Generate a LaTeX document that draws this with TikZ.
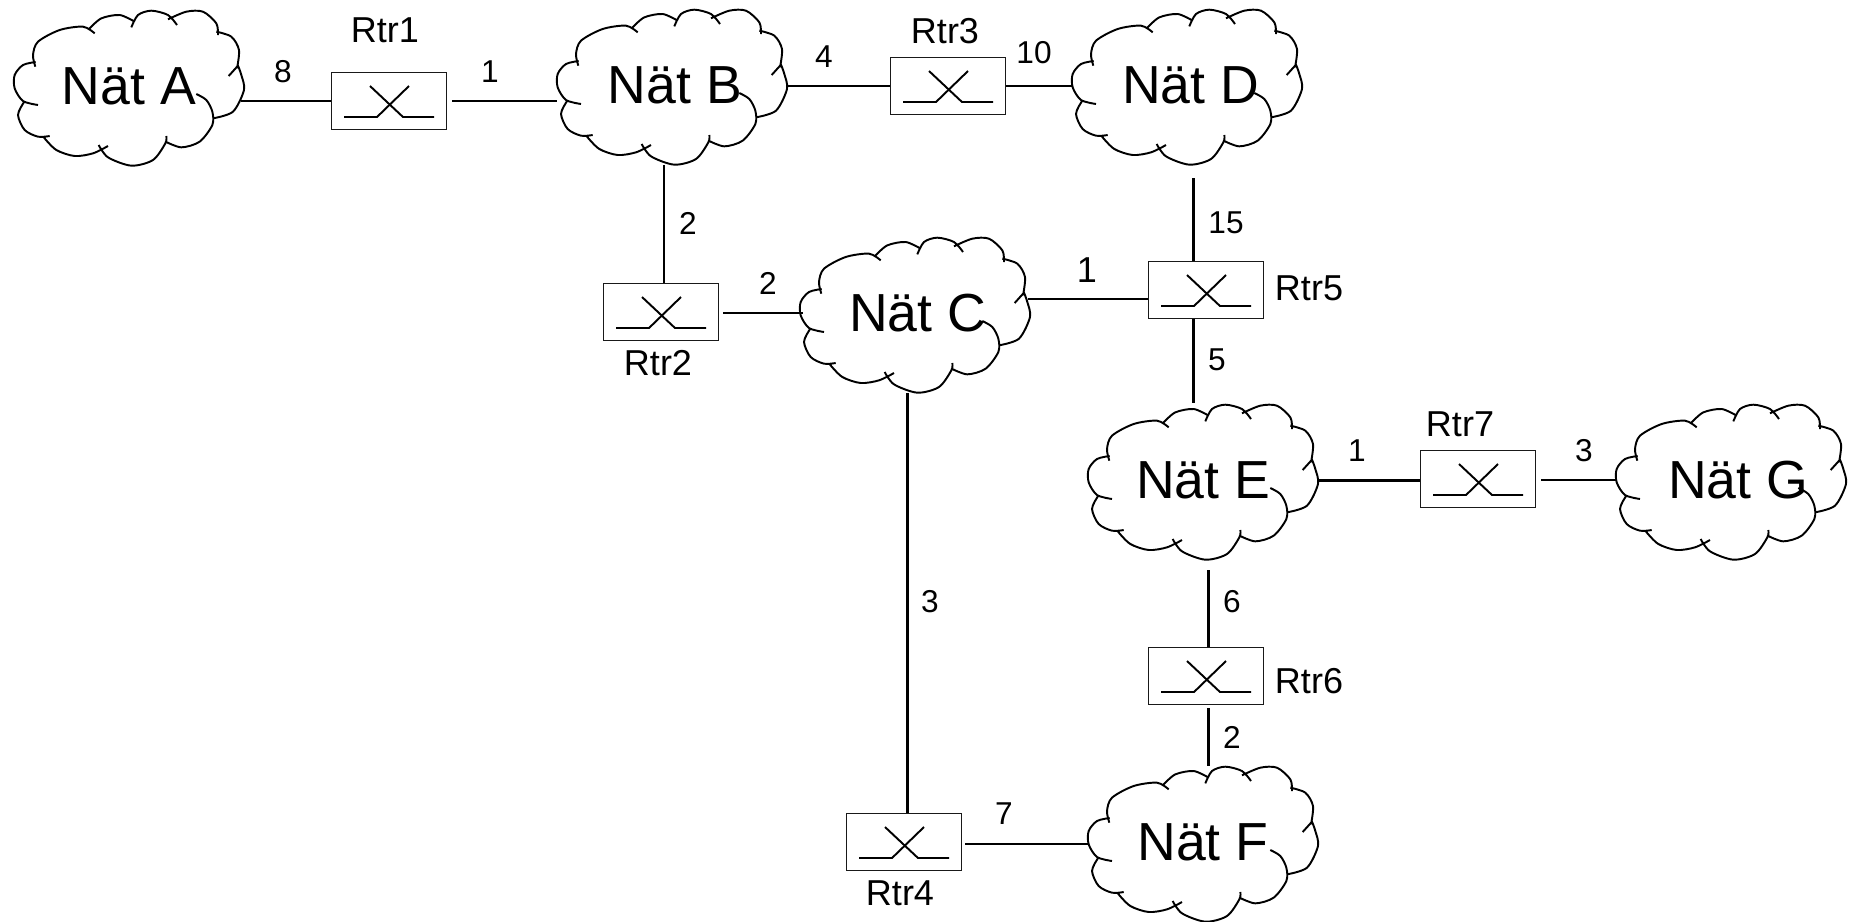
\documentclass[tikz,border=0pt]{standalone}
\usepackage{fontspec}
\setmainfont{Liberation Sans}
\tikzset{
  net/.style={minimum width=4.6cm,minimum height=3.12cm,inner sep=0pt,text depth=0.08cm,font=\fontsize{30.5}{30}\selectfont},
  rtr/.style={draw=black!90,line width=1.1pt,minimum width=2.3cm,minimum height=1.14cm,inner sep=0pt},
  tag/.style={inner sep=0pt,font=\fontsize{20.5}{21}\selectfont},
  cost/.style={inner sep=0pt,font=\fontsize{18}{18}\selectfont},
  link/.style={line width=1.1pt},
  heavy/.style={line width=1.7pt},
  cloudline/.pic={
    \draw[line width=1.1pt,scale=0.3333,shift={(-388,-264)}]
      plot[smooth] coordinates {(108,186) (70,195) (45,225) (45,265) (70,303) (115,315)}
      plot[smooth] coordinates {(72,308) (55,345) (75,390) (115,410) (150,408)}
      plot[smooth] coordinates {(133,413) (170,450) (225,468) (280,460) (325,438)}
      plot[smooth] coordinates {(297,435) (325,472) (395,497) (460,480) (497,430) (500,408)}
      plot[smooth] coordinates {(498,425) (545,442) (600,425) (638,375) (638,335) (620,300) (590,282)}
      plot[smooth] coordinates {(640,355) (700,335) (733,270) (725,225) (715,197)} -- (687,228)
      plot[smooth] coordinates {(712,205) (718,150) (695,110) (650,95)}
      plot[smooth] coordinates {(655,105) (650,70) (610,35) (560,35) (505,58)}
      plot[smooth] coordinates {(532,75) (505,45) (455,32) (415,45) (395,82)}
      plot[smooth] coordinates {(405,65) (360,45) (305,55) (270,85)}
      plot[smooth] coordinates {(285,100) (250,80) (180,90) (115,125) (100,165) (107,200)};
  },
}
\begin{document}
\begin{tikzpicture}[x=0.02cm,y=-0.02cm]
  \useasboundingbox (0,0) rectangle (1850,921);
  % networks
  \node[net] at (129,88) (na) {Nät A};
  \node[net] at (672,87) (nb) {\hspace*{0.12cm}Nät B};
  \node[net] at (915,315) (nc) {\hspace*{0.1cm}Nät C};
  \node[net] at (1187,87) (nd) {\hspace*{0.14cm}Nät D};
  \node[net] at (1203,482) (ne) {Nät E};
  \node[net] at (1203,844) (nf) {Nät F};
  \node[net] at (1731,482) (ng) {\hspace*{0.28cm}Nät G};
  \foreach \n in {na,nb,nc,nd,ne,nf,ng}
    \pic at (\n) {cloudline};
  % routers
  \node[rtr] at (389,101) (r1) {};
  \node[rtr] at (661,312) (r2) {};
  \node[rtr] at (948,86) (r3) {};
  \node[rtr] at (904,842) (r4) {};
  \node[rtr] at (1206,290) (r5) {};
  \node[rtr] at (1206,676) (r6) {};
  \node[rtr] at (1478,479) (r7) {};
  \foreach \n in {r1,r2,r3,r4,r5,r6,r7} {
    \draw[link] ([shift={(-45,16)}]\n.center) -- ([shift={(-12,16)}]\n.center) -- ([shift={(20,-15)}]\n.center);
    \draw[link] ([shift={(-19,-15)}]\n.center) -- ([shift={(14,16)}]\n.center) -- ([shift={(45,16)}]\n.center);
  }
  % router names
  \node[tag] at (385,30) (t1) {Rtr1};
  \node[tag] at (658,363) (t2) {Rtr2};
  \node[tag] at (945,31) (t3) {Rtr3};
  \node[tag] at (900,893) (t4) {Rtr4};
  \node[tag] at (1309,288) (t5) {Rtr5};
  \node[tag] at (1309,681) (t6) {Rtr6};
  \node[tag] at (1460,424) (t7) {Rtr7};
  % links
  \draw[link] (r1.west) -- ([xshift=-0.06cm]r1.west -| na.east);
  \draw[link] ([xshift=0.1cm]r1.east) -- (r1.east -| nb.west);
  \draw[link] (r3.west) -- (r3.west -| nb.east);
  \draw[link] (r3.east) -- (r3.east -| nd.west);
  \draw[heavy] ([xshift=0.06cm]r2.north) -- ([xshift=0.06cm]r2.north |- nb.south);
  \draw[link] ([xshift=0.08cm,yshift=-0.02cm]r2.east) -- ([xshift=0.06cm,yshift=-0.02cm]r2.east -| nc.west);
  \draw[link] ([yshift=-0.18cm]r5.west) -- ([xshift=-0.04cm,yshift=-0.18cm]r5.west -| nc.east);
  \draw[heavy] ([xshift=-0.26cm]r5.north) -- ([xshift=-0.26cm,yshift=-0.26cm]r5.north |- nd.south);
  \draw[heavy] ([xshift=-0.26cm]r5.south) -- ([xshift=-0.26cm,yshift=0.02cm]r5.south |- ne.north);
  \draw[heavy] ([yshift=-0.02cm]r7.west) -- ([yshift=-0.02cm]r7.west -| ne.east);
  \draw[link] ([xshift=0.1cm,yshift=-0.02cm]r7.east) -- ([yshift=-0.02cm]r7.east -| ng.west);
  \draw[heavy] ([xshift=0.04cm]r6.north) -- ([xshift=0.04cm,yshift=-0.2cm]r6.north |- ne.south);
  \draw[heavy] ([xshift=0.04cm,yshift=-0.06cm]r6.south) -- ([xshift=0.04cm]r6.south |- nf.north);
  \draw[heavy] ([xshift=0.06cm]r4.north) -- ([xshift=0.06cm]r4.north |- nc.south);
  \draw[link] ([xshift=0.06cm,yshift=-0.04cm]r4.east) -- ([yshift=-0.04cm]r4.east -| nf.west);
  % costs
  \node[cost] at (283,72) (c1) {8};
  \node[cost] at (490,72) (c2) {1};
  \node[cost] at (824,57) (c3) {4};
  \node[cost] at (1034,53) (c4) {10};
  \node[cost] at (688,223) (c5) {2};
  \node[cost] at (768,283) (c6) {2};
  \node[tag] at (1087,270) (c7) {1};
  \node[cost] at (1226,223) (c8) {15};
  \node[cost] at (1217,360) (c9) {5};
  \node[cost] at (1357,451) (c10) {1};
  \node[cost] at (1584,451) (c11) {3};
  \node[cost] at (1232,602) (c12) {6};
  \node[cost] at (930,602) (c13) {3};
  \node[cost] at (1232,737) (c14) {2};
  \node[cost] at (1004,814) (c15) {7};
\end{tikzpicture}
\end{document}
